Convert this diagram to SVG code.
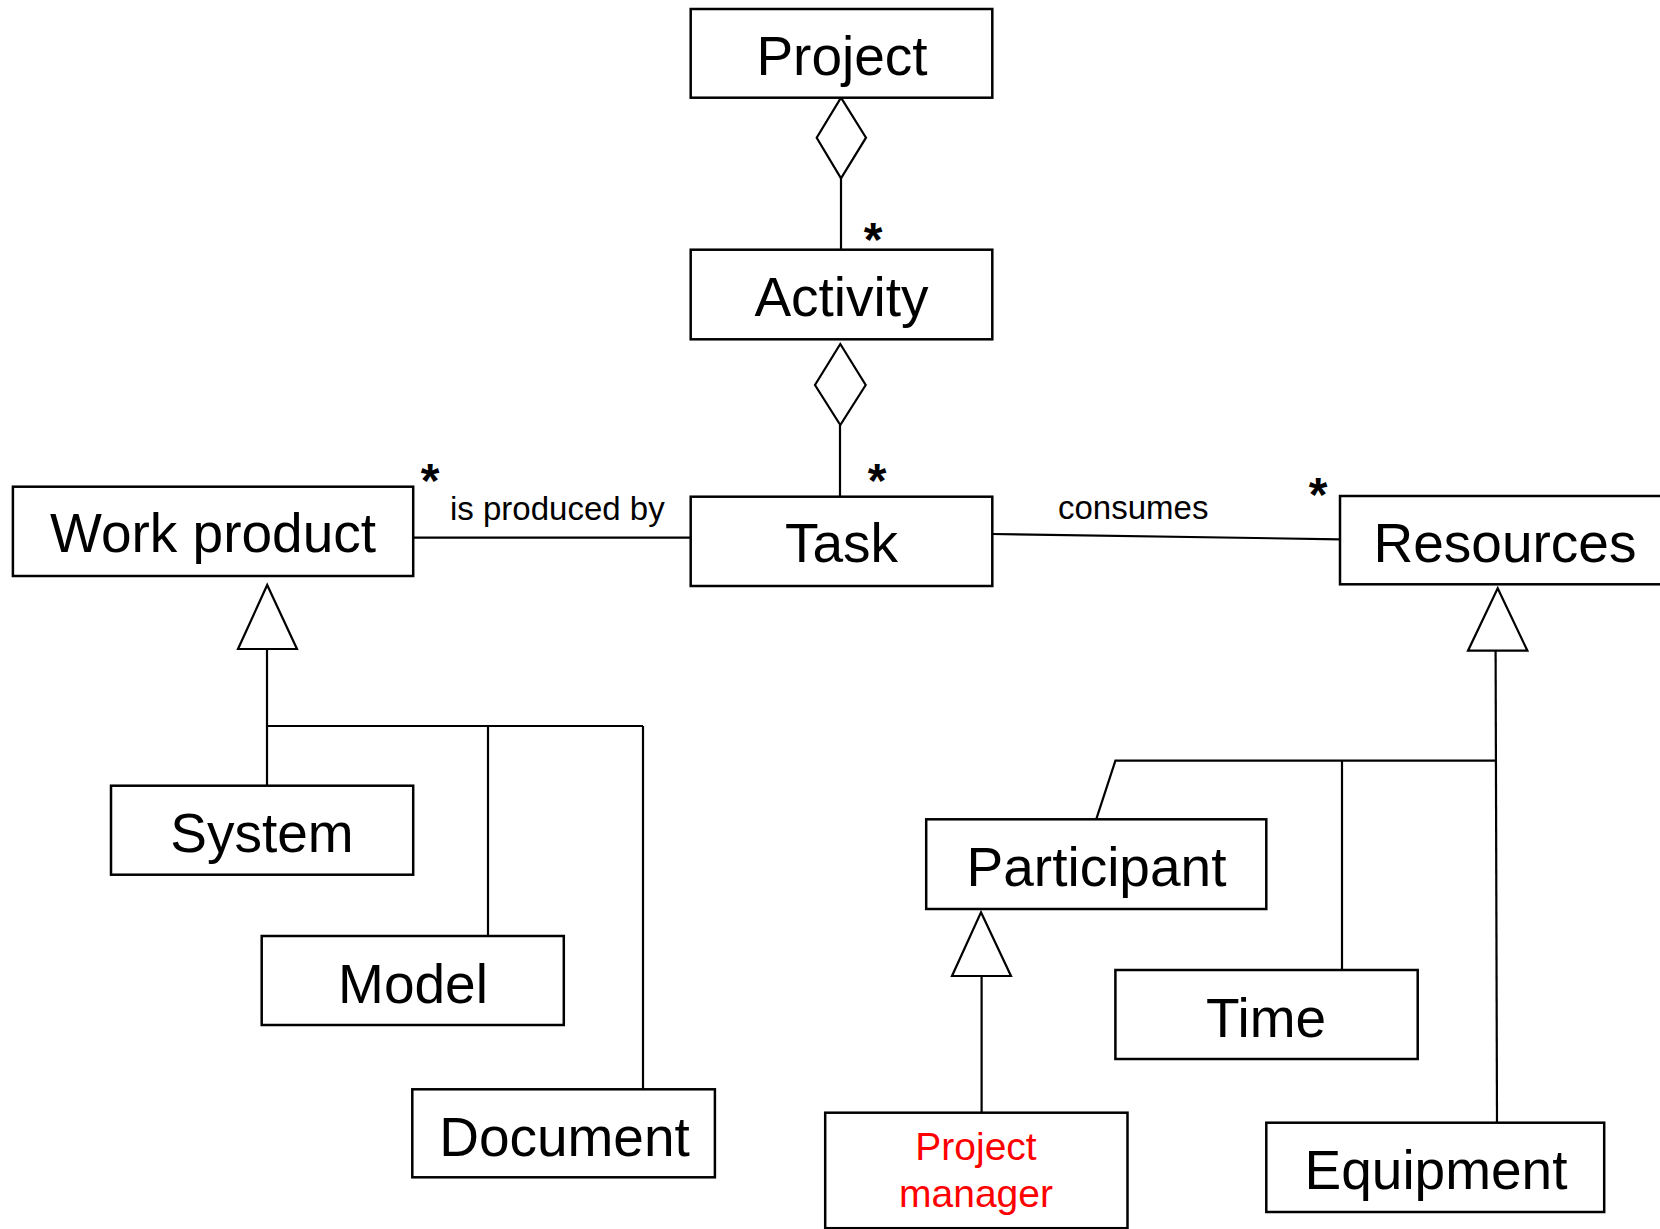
<svg xmlns="http://www.w3.org/2000/svg" width="1660" height="1229" viewBox="0 0 1660 1229">
<style>
.box{fill:#fff;stroke:#000;stroke-width:2.5}
.lbl{font-family:"Liberation Sans",Arial,sans-serif;font-size:55px;text-anchor:middle;fill:#000}
.pm{font-family:"Liberation Sans",Arial,sans-serif;font-size:39px;text-anchor:middle;fill:#ff0000}
.rel{font-family:"Liberation Sans",Arial,sans-serif;font-size:33px;fill:#000}
.mult{font-family:"Liberation Sans",Arial,sans-serif;font-size:48px;font-weight:bold;text-anchor:middle;fill:#000}
.ln{fill:none;stroke:#000;stroke-width:2.2}
.head{fill:#fff;stroke:#000;stroke-width:2.2;stroke-linejoin:miter}
</style>
<rect width="1660" height="1229" fill="#fff"/>
<g id="connectors">
<line class="ln" x1="841" y1="178" x2="841" y2="250"/>
<line class="ln" x1="840" y1="425" x2="840" y2="497"/>
<line class="ln" x1="413" y1="537.7" x2="691" y2="537.7"/>
<line class="ln" x1="992" y1="534" x2="1340" y2="539.3"/>
<line class="ln" x1="267" y1="649" x2="267" y2="786"/>
<line class="ln" x1="267" y1="726" x2="643" y2="726"/>
<line class="ln" x1="488" y1="726" x2="488" y2="936"/>
<line class="ln" x1="643" y1="726" x2="643" y2="1089"/>
<line class="ln" x1="1495.6" y1="651" x2="1497" y2="1123"/>
<polyline class="ln" points="1096.2,819.3 1115.4,760.7 1496,760.7"/>
<line class="ln" x1="1342" y1="760.7" x2="1342" y2="970"/>
<line class="ln" x1="981.6" y1="976" x2="981.6" y2="1113"/>
<polygon class="head" points="841,97.7 866,137.7 841,178.3 816.7,137.7"/>
<polygon class="head" points="840.3,344 865.7,385 840.3,425 815,385"/>
<polygon class="head" points="267.2,585 297,649 238,649"/>
<polygon class="head" points="1497.7,588.3 1527.4,650.7 1468,650.7"/>
<polygon class="head" points="981,912.3 1011,976 952,976"/>
<text class="mult" x="873" y="256">*</text>
<text class="mult" x="877" y="497">*</text>
<text class="mult" x="430" y="497">*</text>
<text class="mult" x="1318" y="511">*</text>
<text class="rel" x="450" y="520">is produced by</text>
<text class="rel" x="1058" y="519">consumes</text>
</g>
<g id="project"><rect class="box" x="690.7" y="9" width="301.6" height="88.7"/><text class="lbl" x="842" y="75">Project</text></g>
<g id="activity"><rect class="box" x="690.7" y="249.7" width="301.6" height="89.6"/><text class="lbl" x="841.5" y="316">Activity</text></g>
<g id="task"><rect class="box" x="690.7" y="496.7" width="301.6" height="89.3"/><text class="lbl" x="841.5" y="562">Task</text></g>
<g id="work-product"><rect class="box" x="12.9" y="486.7" width="400.3" height="89.3"/><text class="lbl" x="213" y="551.7">Work product</text></g>
<g id="resources"><rect class="box" x="1340" y="496" width="330" height="88.3"/><text class="lbl" x="1505" y="561.7">Resources</text></g>
<g id="system"><rect class="box" x="111" y="785.7" width="302.2" height="89"/><text class="lbl" x="262" y="851.7">System</text></g>
<g id="model"><rect class="box" x="261.7" y="936" width="302.1" height="89"/><text class="lbl" x="413" y="1002.7">Model</text></g>
<g id="document"><rect class="box" x="412.3" y="1089.3" width="302.6" height="88"/><text class="lbl" x="564.5" y="1156">Document</text></g>
<g id="participant"><rect class="box" x="926.2" y="819.3" width="340.1" height="89.7"/><text class="lbl" x="1096.5" y="886">Participant</text></g>
<g id="time"><rect class="box" x="1115.4" y="970" width="302.3" height="89"/><text class="lbl" x="1266" y="1036.7">Time</text></g>
<g id="equipment"><rect class="box" x="1266.3" y="1122.7" width="337.9" height="89.3"/><text class="lbl" x="1436" y="1189.3">Equipment</text></g>
<g id="project-manager"><rect class="box" x="825.2" y="1112.7" width="302.3" height="115.5"/><text class="pm" x="976" y="1160">Project</text><text class="pm" x="976" y="1206.7">manager</text></g>
</svg>
